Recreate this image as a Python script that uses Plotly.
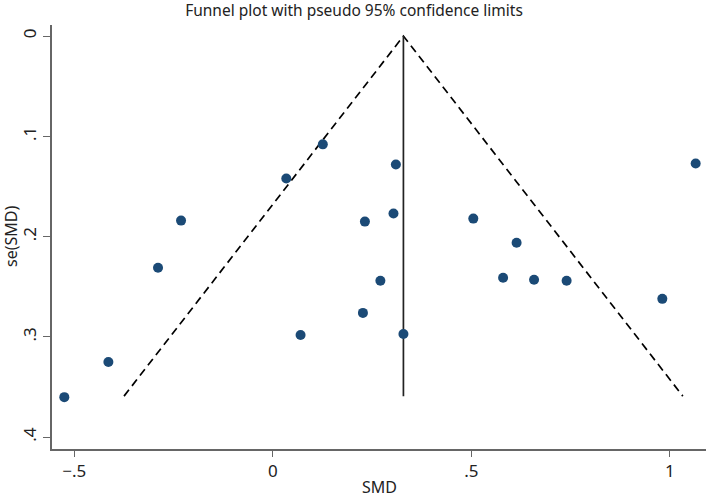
import plotly.graph_objects as go

# Study effect sizes (SMD) and standard errors
smd = [-0.525, -0.414, -0.289, -0.231, 0.034, 0.126, 0.070, 0.310, 1.065, 0.232,
       0.304, 0.505, 0.614, 0.271, 0.227, 0.329, 0.580, 0.658, 0.740, 0.981]
se = [0.360, 0.325, 0.231, 0.184, 0.142, 0.108, 0.298, 0.128, 0.127, 0.185,
      0.177, 0.182, 0.206, 0.244, 0.276, 0.297, 0.241, 0.243, 0.244, 0.262]

pooled = 0.329
se_max = 0.359
z = 1.96

x_ticks = [-0.5, 0, 0.5, 1]
x_tick_text = ["\u2212.5", "0", ".5", "1"]
y_ticks = [0, 0.1, 0.2, 0.3, 0.4]
y_tick_text = ["0", ".1", ".2", ".3", ".4"]

FONT = "Noto Sans"
W, H = 708, 497
L, R, T, B = 52, 2, 25, 48

fig = go.Figure()

# pseudo 95% confidence limits
fig.add_trace(go.Scatter(
    x=[pooled - z * se_max, pooled, pooled + z * se_max],
    y=[se_max, 0, se_max],
    mode="lines", line=dict(color="black", width=1.7, dash="8px,5px"),
    hoverinfo="skip", showlegend=False))
# pooled estimate line
fig.add_trace(go.Scatter(
    x=[pooled, pooled], y=[0, se_max],
    mode="lines", line=dict(color="#222222", width=1.7),
    hoverinfo="skip", showlegend=False))
# studies
fig.add_trace(go.Scatter(
    x=smd, y=se, mode="markers", cliponaxis=False,
    marker=dict(color="#1b4a76", size=10, line=dict(width=0)),
    showlegend=False))

fig.update_layout(
    width=W, height=H,
    margin=dict(l=L, r=R, t=T, b=B),
    paper_bgcolor="white", plot_bgcolor="white",
    font=dict(family=FONT, color="#222222", size=16),
    title=dict(text="Funnel plot with pseudo 95% confidence limits",
               x=0.5, xanchor="center",
               y=1 - 11 / H, yanchor="middle", yref="container",
               font=dict(family=FONT, size=15.5, color="#222222")),
    annotations=[
        dict(text="SMD", xref="paper", yref="paper", x=0.5, y=-(487 - (H - B)) / (H - T - B),
             xanchor="center", yanchor="middle", showarrow=False, font=dict(size=16)),
        dict(text="se(SMD)", xref="paper", yref="paper", x=-(L - 11) / (W - L - R), y=0.5,
             xanchor="center", yanchor="middle", textangle=-90, showarrow=False, font=dict(size=16)),
    ],
)
fig.update_xaxes(
    range=[-0.556, 1.091], tickvals=x_ticks, ticktext=x_tick_text, automargin=False,
    showgrid=False, zeroline=False, showline=True, linecolor="#666666", linewidth=1.5,
    ticks="outside", ticklen=6, tickcolor="#666666", tickwidth=1.2,
    tickfont=dict(size=17))
fig.update_yaxes(
    range=[0.4117, -0.011], tickvals=y_ticks, ticktext=y_tick_text, automargin=False,
    showgrid=False, zeroline=False, showline=True, linecolor="#666666", linewidth=1.5,
    ticks="outside", ticklen=7, tickcolor="#666666", tickwidth=1.2,
    tickangle=-90, tickfont=dict(size=17))

fig.write_html("out.html", config={"displayModeBar": False},
               post_script="document.body.style.margin='0';document.body.style.overflow='hidden';")
